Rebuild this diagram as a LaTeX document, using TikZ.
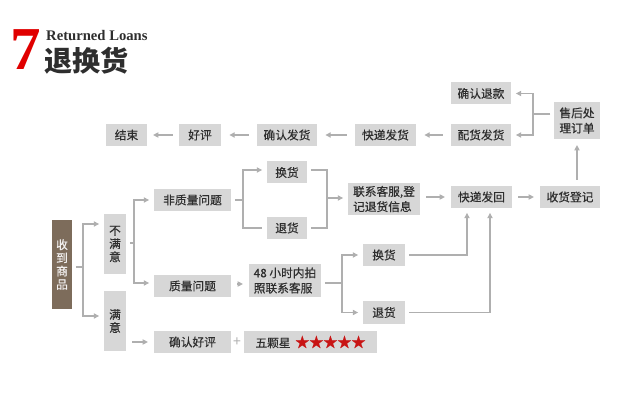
\documentclass[tikz,border=0pt]{standalone}
\usepackage{fontspec}
\setmainfont{Noto Sans CJK SC}
\newfontfamily\boxfont{Noto Sans CJK SC}[FakeBold=0.5]
\newfontfamily\serifroman{Liberation Serif}
\usetikzlibrary{arrows.meta}

\definecolor{boxgray}{HTML}{D7D7D7}
\definecolor{wiregray}{HTML}{AFAFAF}
\definecolor{brownfill}{HTML}{7D6C5B}
\definecolor{inkgray}{HTML}{2E2E2E}
\definecolor{starred}{HTML}{C81414}
\definecolor{titlered}{HTML}{E00000}

\begin{document}
\begin{tikzpicture}[x=0.03cm, y=-0.03cm,
    box/.style={fill=boxgray, text=inkgray, inner sep=0pt, align=center,
        font=\boxfont\fontsize{10}{13}\selectfont,
        minimum height=0.66cm, minimum width=#1*0.03cm},
    box/.default=60,
    vbox/.style={fill=boxgray, text=inkgray, inner sep=0pt, align=center,
        font=\boxfont\fontsize{10}{11.3}\selectfont,
        minimum width=0.66cm, minimum height=1.8cm},
    wire/.style={draw=wiregray, line width=0.9pt, shorten <=3pt},
    arr/.style={draw=wiregray, line width=0.9pt, shorten >=4pt,
        -{Triangle[length=4.5pt,width=4.5pt]}},
    link/.style={wire, arr, shorten <=#1, shorten >=#1},
    link/.default=5pt]
    \useasboundingbox (0,0) rectangle (640,401);

    % Title
    \node[anchor=base west, inner sep=0pt, text=titlered,
        font=\serifroman\bfseries\fontsize{52}{52}\selectfont] (seven) at (10,70) {7};
    \node[anchor=base west, inner sep=0pt, text=inkgray,
        font=\serifroman\bfseries\fontsize{12.5}{12.5}\selectfont] (entitle) at (46,41) {Returned Loans};
    \node[anchor=west, inner sep=0pt, text=inkgray,
        font=\bfseries\fontsize{24}{24}\selectfont] (cntitle) at (44,61) {退换货};

    % Top row
    \node[box=41] (finish) at (126.5,135) {结束};
    \node[box=42] (praise) at (200,135) {好评};
    \node[box=60] (confirm) at (287,135) {确认发货};
    \node[box=61] (express) at (385.5,135) {快递发货};
    \node[box=60] (pack) at (481,135) {配货发货};
    \node[box=60] (refund) at (481,93.5) {确认退款};
    \node[box=46, minimum height=1.11cm] (after) at (577,120.5) {售后处\\理订单};

    % Left column
    \node[vbox, fill=brownfill, text=white!90!brownfill, minimum width=0.6cm,
        minimum height=2.67cm] (recv) at (62,264.5) {收\\到\\商\\品};
    \node[vbox] (unsat) at (115,244) {不\\满\\意};
    \node[vbox] (sat) at (115,321) {满\\意};

    % Middle
    \node[box=77] (nonq) at (192.5,200) {非质量问题};
    \node[box=77] (qual) at (192.5,286) {质量问题};
    \node[box=77] (good) at (192.5,342) {确认好评};
    \node[box=40] (swapa) at (287,172.5) {换货};
    \node[box=40] (reta) at (287,228) {退货};
    \node[box=72, minimum height=0.99cm, align=left] (photo) at (285,280.5) {48 小时内拍\\照联系客服};
    \node[box=72, minimum height=0.96cm, align=left] (contact) at (384,199) {联系客服,登\\记退货信息};
    \node[box=42] (swapb) at (384,255) {换货};
    \node[box=42] (retb) at (384,312.5) {退货};
    \node[box=61] (back) at (481.5,197) {快递发回};
    \node[box=60] (record) at (570,197) {收货登记};

    % Five stars
    \node[text=wiregray, font=\fontsize{12}{12}\selectfont] (plus) at (237,342) {+};
    \node[box=133, align=left] (stars) at (310.5,342)
        {五颗星\hspace{4pt}{\color{starred}\fontsize{12}{12}\selectfont ★★★★★}};

    % Top row arrows
    \draw[link=7pt] (pack) -- (express);
    \draw[link=7pt] (express) -- (confirm);
    \draw[link=7pt] (confirm) -- (praise);
    \draw[link=5pt] (praise) -- (finish);

    % After-sale branch
    \coordinate (ja) at (533,114);
    \draw[wire] (after.west |- ja) -- (ja);
    \draw[arr] (ja) |- (refund.east);
    \draw[arr] (ja) |- (pack.east);
    \draw[link] (record.north -| after.south) -- (after.south);

    % Received goods
    \coordinate (jb) at (83,267);
    \draw[wire] (recv.east |- jb) -- (jb);
    \draw[arr] (jb) |- (unsat.west |- 0,224);
    \draw[arr] (jb) |- (sat.west |- 0,316);

    % Not satisfied
    \coordinate (jc) at (134,243);
    \draw[wire] (unsat.east |- jc) -- (jc);
    \draw[arr] (jc) |- (nonq.west);
    \draw[arr] (jc) |- (qual.west |- 0,283);

    % Non-quality problem
    \coordinate (jd) at (243,200);
    \draw[wire] (nonq.east) -- (jd);
    \draw[arr] (jd) |- (swapa.west |- 0,170);
    \draw[draw=wiregray, line width=0.9pt, shorten >=4pt] (jd) |- (reta.west);
    \coordinate (je) at (327,198);
    \draw[wire] (swapa.east |- 0,170) -| (je);
    \draw[wire] (reta.east) -| (je);
    \draw[arr] (je) -- (contact.west |- je);
    \draw[link] (contact.east |- back) -- (back);
    \draw[link] (back) -- (record);

    % Quality problem
    \draw[link] (qual.east |- 0,284) -- (photo.west |- 0,284);
    \coordinate (jf) at (342,283);
    \draw[wire] (photo.east |- jf) -- (jf);
    \draw[arr] (jf) |- (swapb.west);
    \draw[arr] (jf) |- (retb.west);
    \draw[wire, arr] (swapb.east) -| (back.south -| 467,0);
    \draw[wire, arr] (retb.east) -| (back.south -| 490,0);

    % Satisfied
    \draw[link] (sat.east |- good) -- (good);
\end{tikzpicture}
\end{document}
